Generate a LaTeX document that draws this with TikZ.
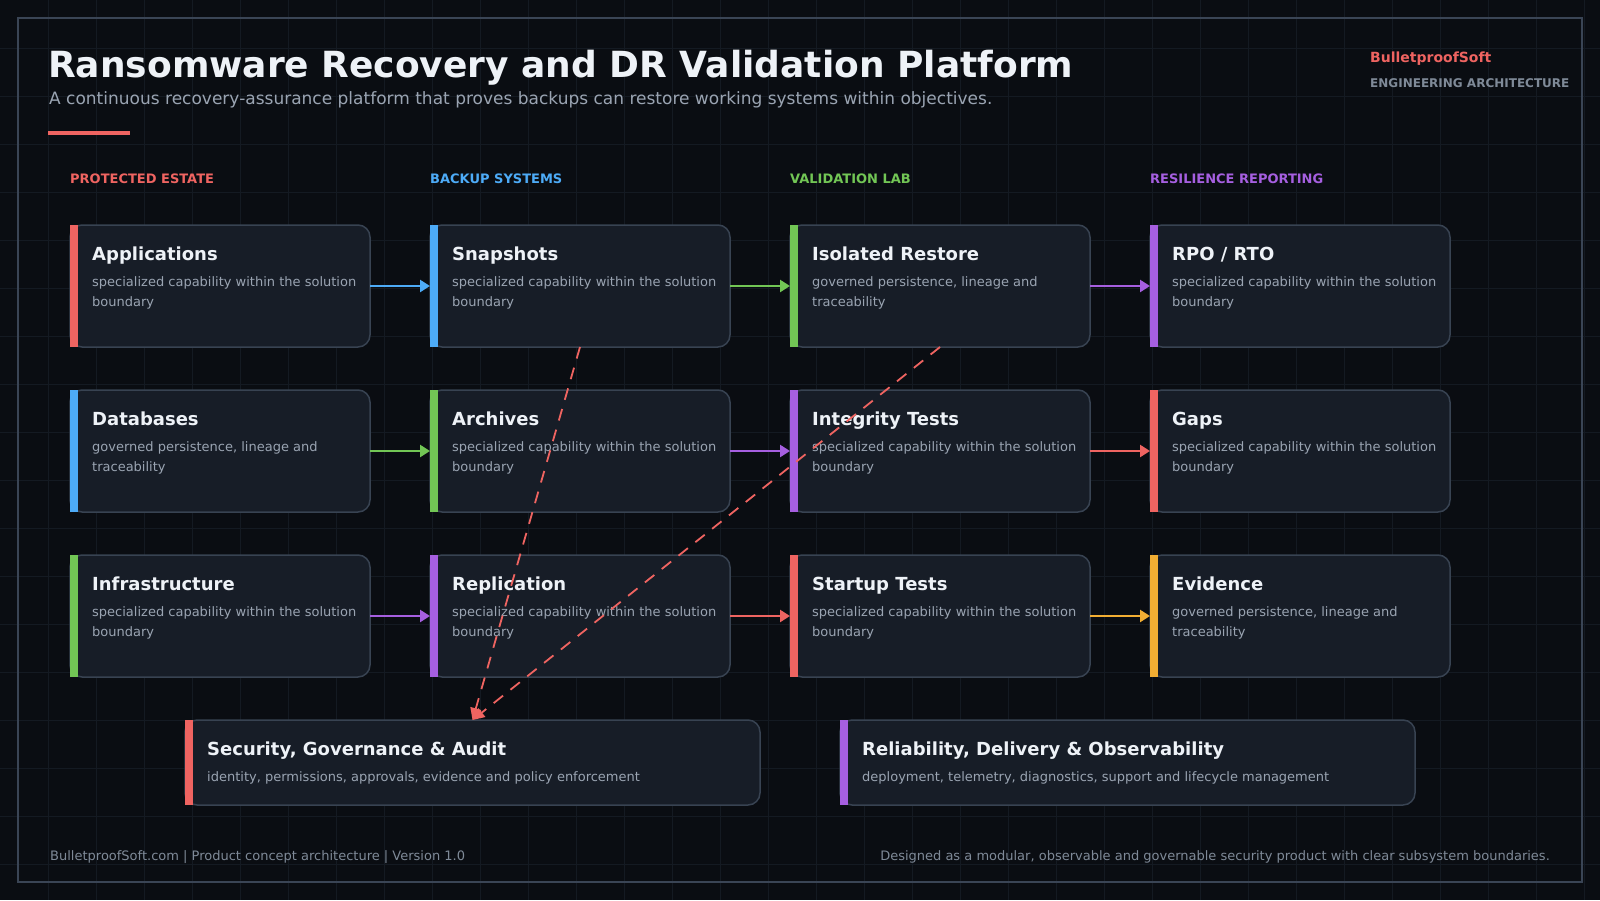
\documentclass[tikz,border=0pt]{standalone}
\usepackage{fontspec}
\setmainfont{DejaVu Sans}
\usetikzlibrary{arrows.meta}
\definecolor{bg}{HTML}{0A0D12}
\definecolor{gridc}{HTML}{141A22}
\definecolor{framec}{HTML}{3A4555}
\definecolor{cardfill}{HTML}{171D27}
\definecolor{cardline}{HTML}{384352}
\definecolor{txt}{HTML}{EEF2F7}
\definecolor{subc}{HTML}{9AA4B2}
\definecolor{muted}{HTML}{7F8A98}
\definecolor{cred}{HTML}{EF6461}
\definecolor{cblue}{HTML}{4DABF7}
\definecolor{cgreen}{HTML}{72C655}
\definecolor{cpurple}{HTML}{A65FE0}
\definecolor{corange}{HTML}{F2AE33}
\newcommand\mkcard[7]{%
  \node[card] (#1) at (#2,#3) {};
  \fill[#4] (#2,#3) rectangle ++(8,122);
  \node[ttl] (#1-t) at (#2+22,#3+35) {#5};
  \node[dsc] (#1-a) at (#2+22,#3+61) {#6};
  \node[dsc] (#1-b) at (#2+22,#3+81) {#7};
}
\newcommand\mkwide[6]{%
  \node[card, minimum width=575pt, minimum height=85pt] (#1) at (#2,#3) {};
  \fill[#4] (#2,#3) rectangle ++(8,85);
  \node[ttl] (#1-t) at (#2+22,#3+35) {#5};
  \node[dsc] (#1-a) at (#2+22,#3+61) {#6};
}
\begin{document}
\begin{tikzpicture}[x=1pt,y=-1pt,
  card/.style={draw=cardline, line width=1.5pt, fill=cardfill, rounded corners=12pt, inner sep=0pt, outer sep=0pt, anchor=north west, minimum width=300pt, minimum height=122pt},
  ttl/.style={anchor=base west, inner sep=0pt, text=txt, font=\fontsize{18}{22}\selectfont\bfseries},
  dsc/.style={anchor=base west, inner sep=0pt, text=subc, font=\fontsize{13}{16}\selectfont},
  hdr/.style={anchor=base west, inner sep=0pt, font=\fontsize{13}{15}\selectfont\bfseries},
  flow/.style={line width=2.5pt, -{Triangle[length=10pt,width=12pt]}},
  link/.style={draw=cred, line width=1.8pt, dash pattern=on 12pt off 9.5pt, -{Triangle[length=12pt,width=11pt]}},
]
\useasboundingbox (0,0) rectangle (1600,900);
\fill[bg] (0,0) rectangle (1600,900);
\foreach \i in {1,...,33} \draw[gridc, line width=1pt] (48*\i,0) -- (48*\i,900);
\foreach \j in {1,...,18} \draw[gridc, line width=1pt] (0,48*\j) -- (1600,48*\j);
\draw[framec, line width=1.5pt] (18,18) rectangle (1582,882);

% header
\node[anchor=base west, inner sep=0pt, text=txt, font=\fontsize{36}{42}\selectfont\bfseries] (title) at (48,77) {Ransomware Recovery and DR Validation Platform};
\node[anchor=base west, inner sep=0pt, text=subc, font=\fontsize{17}{20}\selectfont] (subtitle) at (49,104) {A continuous recovery-assurance platform that proves backups can restore working systems within objectives.};
\fill[cred] (48,131) rectangle (130,135);
\node[anchor=base west, inner sep=0pt, text=cred, font=\fontsize{14}{17}\selectfont\bfseries] (brand) at (1370,62.5) {BulletproofSoft};
\node[anchor=base west, inner sep=0pt, text=muted, font=\fontsize{12}{15}\selectfont\bfseries] (brandsub) at (1370,87.5) {ENGINEERING ARCHITECTURE};

% column headers
\node[hdr, text=cred] (h1) at (70,183) {PROTECTED ESTATE};
\node[hdr, text=cblue] (h2) at (430,183) {BACKUP SYSTEMS};
\node[hdr, text=cgreen] (h3) at (790,183) {VALIDATION LAB};
\node[hdr, text=cpurple] (h4) at (1150,183) {RESILIENCE REPORTING};

% cards
\mkcard{app}{70}{225}{cred}{Applications}{specialized capability within the solution}{boundary}
\mkcard{snap}{430}{225}{cblue}{Snapshots}{specialized capability within the solution}{boundary}
\mkcard{iso}{790}{225}{cgreen}{Isolated Restore}{governed persistence, lineage and}{traceability}
\mkcard{rpo}{1150}{225}{cpurple}{RPO / RTO}{specialized capability within the solution}{boundary}

\mkcard{db}{70}{390}{cblue}{Databases}{governed persistence, lineage and}{traceability}
\mkcard{arch}{430}{390}{cgreen}{Archives}{specialized capability within the solution}{boundary}
\mkcard{integ}{790}{390}{cpurple}{Integrity Tests}{specialized capability within the solution}{boundary}
\mkcard{gaps}{1150}{390}{cred}{Gaps}{specialized capability within the solution}{boundary}

\mkcard{infra}{70}{555}{cgreen}{Infrastructure}{specialized capability within the solution}{boundary}
\mkcard{repl}{430}{555}{cpurple}{Replication}{specialized capability within the solution}{boundary}
\mkcard{start}{790}{555}{cred}{Startup Tests}{specialized capability within the solution}{boundary}
\mkcard{evid}{1150}{555}{corange}{Evidence}{governed persistence, lineage and}{traceability}

\mkwide{sec}{185}{720}{cred}{Security, Governance \& Audit}{identity, permissions, approvals, evidence and policy enforcement}
\mkwide{rel}{840}{720}{cpurple}{Reliability, Delivery \& Observability}{deployment, telemetry, diagnostics, support and lifecycle management}

% flows
\draw[flow, cblue] (app.east) -- (snap.west);
\draw[flow, cgreen] (snap.east) -- (iso.west);
\draw[flow, cpurple] (iso.east) -- (rpo.west);
\draw[flow, cgreen] (db.east) -- (arch.west);
\draw[flow, cpurple] (arch.east) -- (integ.west);
\draw[flow, cred] (integ.east) -- (gaps.west);
\draw[flow, cpurple] (infra.east) -- (repl.west);
\draw[flow, cred] (repl.east) -- (start.west);
\draw[flow, corange] (start.east) -- (evid.west);

% dashed links
\draw[link] (snap.south) -- (sec.north);
\draw[link] (iso.south) -- (sec.north);

% footer
\node[anchor=base west, inner sep=0pt, text=muted, font=\fontsize{13}{16}\selectfont] (footl) at (50,860) {BulletproofSoft.com | Product concept architecture | Version 1.0};
\node[anchor=base east, inner sep=0pt, text=muted, font=\fontsize{13}{16}\selectfont] (footr) at (1550,860) {Designed as a modular, observable and governable security product with clear subsystem boundaries.};
\end{tikzpicture}
\end{document}
